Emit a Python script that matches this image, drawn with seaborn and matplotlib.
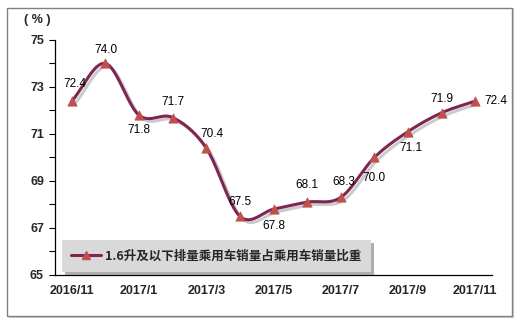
import numpy as np
import pandas as pd
import matplotlib
matplotlib.use("Agg")
import matplotlib.pyplot as plt
import matplotlib.patheffects as pe
from matplotlib.patches import Rectangle
import seaborn as sns

months = ["2016/11", "2016/12", "2017/1", "2017/2", "2017/3", "2017/4", "2017/5",
          "2017/6", "2017/7", "2017/8", "2017/9", "2017/10", "2017/11"]
values = [72.4, 74.0, 71.8, 71.7, 70.4, 67.5, 67.8, 68.1, 68.3, 70.0, 71.1, 71.9, 72.4]
series_name = "1.6升及以下排量乘用车销量占乘用车销量比重"
yticks = [65, 67, 69, 71, 73, 75]
# label offsets in points (dx, dy)
label_offsets = [(2, 12), (0, 10), (0, -11), (0, 11), (4, 10), (0, 10), (0, -12),
                 (0, 12), (2, 11), (0, -15), (2, -12), (0, 10), (15, 0)]

sns.set_style("white")
plt.rcParams['font.family'] = ['Liberation Sans', 'Noto Sans CJK SC', 'DejaVu Sans']

line_color = "#7E2553"
marker_color = "#C0504D"

df = pd.DataFrame({"month": months, "value": values, "x": np.arange(len(months))})

fig = plt.figure(figsize=(5.2, 3.23), dpi=100)
ax = fig.add_axes([55 / 520, 48 / 323, 437 / 520, 235 / 323])

# outer frame
fig.patches.append(Rectangle((9 / 520, 5 / 323), 505 / 520, 310 / 323, transform=fig.transFigure,
                             facecolor="#CCCCCC", edgecolor="none", zorder=-2))
fig.patches.append(Rectangle((7 / 520, 7 / 323), 505 / 520, 308 / 323, transform=fig.transFigure,
                             facecolor="white", edgecolor="#808080", lw=1.0, zorder=-1))

# smooth curve (Catmull-Rom through data points)
x = df["x"].to_numpy(dtype=float)
y = df["value"].to_numpy(dtype=float)
px = np.concatenate([[2 * x[0] - x[1]], x, [2 * x[-1] - x[-2]]])
py = np.concatenate([[2 * y[0] - y[1]], y, [2 * y[-1] - y[-2]]])
sx, sy = [], []
t = np.linspace(0, 1, 25)
for i in range(1, len(px) - 2):
    p0, p1, p2, p3 = [np.array([px[j], py[j]]) for j in range(i - 1, i + 3)]
    for tt in t:
        pt = 0.5 * ((2 * p1) + (-p0 + p2) * tt + (2 * p0 - 5 * p1 + 4 * p2 - p3) * tt ** 2
                    + (-p0 + 3 * p1 - 3 * p2 + p3) * tt ** 3)
        sx.append(pt[0]); sy.append(pt[1])
ax.plot(sx, sy, color=line_color, lw=2.2, zorder=3, solid_capstyle="round",
        path_effects=[pe.SimpleLineShadow(offset=(2, -2), shadow_color="#999999", alpha=0.5), pe.Normal()])

sns.scatterplot(data=df, x="x", y="value", marker="^", s=45, color=marker_color,
                edgecolor=marker_color, linewidth=0.5, ax=ax, zorder=4, legend=False)

for i, v in enumerate(values):
    dx, dy = label_offsets[i]
    ax.annotate(f"{v:.1f}", (i, v), xytext=(dx, dy), textcoords="offset points",
                ha="center", va="center", fontsize=8.5, color="black", zorder=5)

ax.set_xlim(-0.5, len(months) - 0.5)
ax.set_ylim(65, 75)
ax.set_yticks(yticks)
ax.set_yticks(np.arange(65, 76, 1), minor=True)
ax.set_yticklabels([str(v) for v in yticks], fontsize=9, fontweight="bold")
ax.set_xticks(np.arange(-0.5, len(months) + 0.5, 1))
ax.set_xticklabels([])
ax.set_xticks(np.arange(0, len(months), 2), minor=True)
ax.set_xticklabels(months[::2], minor=True, fontsize=9, fontweight="bold")
ax.tick_params(axis="x", which="major", direction="in", length=5, width=0.8, color="black")
ax.tick_params(axis="x", which="minor", length=0, pad=7)
ax.tick_params(axis="y", which="both", direction="out", length=4, width=0.8, color="black", left=True, pad=4)
for s in ["top", "right"]:
    ax.spines[s].set_visible(False)
for s in ["left", "bottom"]:
    ax.spines[s].set_color("black")
    ax.spines[s].set_linewidth(0.9)
ax.set_xlabel("")
ax.set_ylabel("")
ax.patch.set_alpha(0)

fig.text(37 / 520, 1 - 20 / 323, "( % )", ha="center", va="center", fontsize=9, fontweight="bold")

handle = plt.Line2D([], [], color=line_color, lw=2.2, marker="^", markersize=6,
                    markerfacecolor=marker_color, markeredgecolor=marker_color)
leg = fig.legend([handle], [series_name], loc="lower left",
                 bbox_to_anchor=(62 / 520, (323 - 272) / 323), frameon=True, fancybox=False,
                 shadow={"color": "#999999", "alpha": 0.8}, facecolor="#D9D9D9", edgecolor="#D9D9D9",
                 framealpha=1, handlelength=2.4, borderpad=0.75, borderaxespad=0, handletextpad=0.3,
                 prop={"family": ["Noto Sans CJK SC", "DejaVu Sans"], "weight": "bold", "size": 9})
leg.get_frame().set_linewidth(0)
for txt in leg.get_texts():
    txt.set_x(0)

fig.savefig("out.png", dpi=100)
